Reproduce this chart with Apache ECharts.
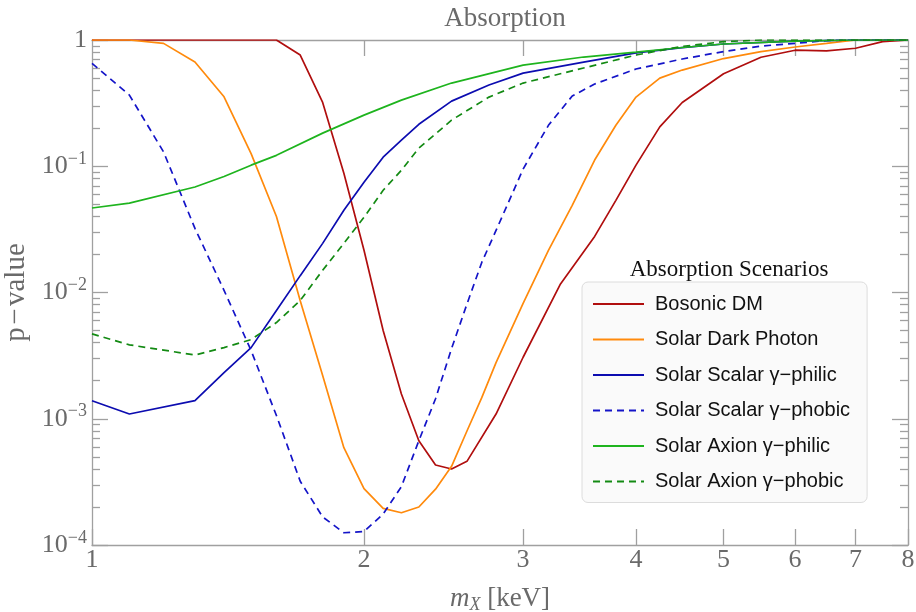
<!DOCTYPE html>
<html><head><meta charset="utf-8">
<script src="https://cdn.jsdelivr.net/npm/echarts@6/dist/echarts.min.js"></script>
<style>html,body{margin:0;padding:0;background:#fff}#c{width:916px;height:612px}</style>
</head><body><div id="c"></div>
<script>
// ---- data ----
var xTickValues = [1, 2, 3, 4, 5, 6, 7, 8];
var xTopTickValues = [2, 3, 4, 5, 6, 7];
var yMajorValues = [1e-4, 1e-3, 1e-2, 1e-1, 1];
var yMinorValues = [2e-4,3e-4,4e-4,5e-4,6e-4,7e-4,8e-4,9e-4,2e-3,3e-3,4e-3,5e-3,6e-3,7e-3,8e-3,9e-3,2e-2,3e-2,4e-2,5e-2,6e-2,7e-2,8e-2,9e-2,0.2,0.3,0.4,0.5,0.6,0.7,0.8,0.9];

var bosonX = [1, 1.6, 1.7, 1.8, 1.9, 2.0, 2.1, 2.2, 2.3, 2.4, 2.5, 2.6, 2.8, 3.0, 3.3, 3.6, 3.8, 4.0, 4.25, 4.5, 5.0, 5.5, 6.0, 6.5, 7.0, 7.5, 8.0];
var bosonY = [1, 1, 0.76, 0.32, 0.088, 0.0216, 0.0050, 0.00157, 6.7e-4, 4.3e-4, 4.0e-4, 4.6e-4, 0.00109, 0.00307, 0.0117, 0.0278, 0.0537, 0.102, 0.205, 0.32, 0.54, 0.73, 0.83, 0.82, 0.86, 0.97, 1];

var photonX = [1, 1.1, 1.2, 1.3, 1.4, 1.5, 1.6, 1.7, 1.8, 1.9, 2.0, 2.1, 2.2, 2.3, 2.4, 2.5, 2.6, 2.7, 2.8, 3.0, 3.2, 3.4, 3.6, 3.8, 4.0, 4.25, 4.5, 5.0, 5.5, 6.0, 6.5, 7.0, 8.0];
var photonY = [1, 1, 0.94, 0.67, 0.355, 0.126, 0.040, 0.0086, 0.0022, 5.9e-4, 2.8e-4, 1.95e-4, 1.8e-4, 2.0e-4, 2.77e-4, 4.2e-4, 8.0e-4, 0.00147, 0.00278, 0.0082, 0.0216, 0.049, 0.112, 0.211, 0.353, 0.499, 0.578, 0.713, 0.81, 0.88, 0.94, 1, 1];

var scalarPhilicX = [1, 1.1, 1.3, 1.4, 1.5, 1.6, 1.7, 1.8, 1.9, 2.0, 2.1, 2.2, 2.3, 2.5, 2.75, 3.0, 3.5, 4.0, 4.5, 5.0, 6.0, 7.0, 8.0];
var scalarPhilicY = [0.00139, 0.00109, 0.00139, 0.00232, 0.00366, 0.0072, 0.0136, 0.0245, 0.0448, 0.0746, 0.118, 0.161, 0.215, 0.328, 0.44, 0.547, 0.669, 0.79, 0.87, 0.93, 0.98, 1, 1];

var scalarPhobicX = [1, 1.1, 1.2, 1.3, 1.4, 1.5, 1.6, 1.7, 1.8, 1.9, 2.0, 2.1, 2.2, 2.3, 2.4, 2.5, 2.6, 2.7, 2.8, 3.0, 3.2, 3.4, 3.6, 4.0, 4.5, 5.0, 5.5, 6.0, 6.5, 7.0, 8.0];
var scalarPhobicY = [0.653, 0.366, 0.13, 0.0322, 0.0104, 0.00347, 0.00106, 3.2e-4, 1.67e-4, 1.25e-4, 1.28e-4, 1.76e-4, 2.9e-4, 6.7e-4, 0.00144, 0.0036, 0.0081, 0.0173, 0.031, 0.095, 0.211, 0.36, 0.448, 0.589, 0.707, 0.81, 0.896, 0.94, 0.99, 1, 1];

var axionPhilicX = [1, 1.1, 1.3, 1.4, 1.5, 1.6, 1.8, 2.0, 2.2, 2.5, 3.0, 3.5, 4.0, 4.5, 5.0, 6.0, 7.0, 8.0];
var axionPhilicY = [0.0467, 0.0511, 0.0685, 0.083, 0.102, 0.122, 0.183, 0.254, 0.334, 0.456, 0.633, 0.733, 0.803, 0.872, 0.93, 0.98, 1, 1];

var axionPhobicX = [1, 1.1, 1.3, 1.4, 1.5, 1.6, 1.7, 1.8, 1.9, 2.0, 2.1, 2.2, 2.3, 2.5, 2.75, 3.0, 3.5, 4.0, 4.5, 5.0, 5.5, 8.0];
var axionPhobicY = [0.0047, 0.00385, 0.0032, 0.00366, 0.00424, 0.00578, 0.00865, 0.015, 0.0245, 0.0394, 0.0645, 0.093, 0.139, 0.232, 0.353, 0.456, 0.60, 0.76, 0.89, 0.97, 1, 1];

var seriesNames = ['Bosonic DM', 'Solar Dark Photon', 'Solar Scalar \u03b3\u2212philic', 'Solar Scalar \u03b3\u2212phobic', 'Solar Axion \u03b3\u2212philic', 'Solar Axion \u03b3\u2212phobic'];

// ---- chart ----
function pairs(xs, ys) { return xs.map(function (x, i) { return [x, ys[i]]; }); }
var SERIF = '"Liberation Serif", "DejaVu Serif", serif';
var SANS = '"Liberation Sans", Arial, sans-serif';
var axisGray = '#a0a0a0';
var textGray = '#6a6a6a';

var yLabelRich = {
  b: { fontFamily: SERIF, fontSize: 26, color: textGray },
  s: { fontFamily: SERIF, fontSize: 18, color: textGray, padding: [0, 0, 14, 0] }
};
function yFmt(v) {
  var e = Math.round(Math.log(v) / Math.LN10);
  if (e === 0) return '{b|1}';
  return '{b|10}{s|\u2212' + (-e) + '}';
}

function lineSeries(name, xs, ys, color, dashed) {
  return {
    name: name, type: 'line', xAxisIndex: 0, yAxisIndex: 0,
    data: pairs(xs, ys), showSymbol: false, symbol: 'none', smooth: false,
    clip: true,
    lineStyle: { color: color, width: 1.7, type: dashed ? [7, 5] : 'solid' },
    itemStyle: { color: color }
  };
}

var baseLog = { type: 'log', logBase: 10, gridIndex: 0 };
var option = {
  backgroundColor: '#ffffff',
  animation: false,
  title: [
    { text: 'Absorption', left: 500, top: 0, textAlign: 'center',
      textStyle: { fontFamily: SERIF, fontSize: 27, fontWeight: 'normal', color: textGray } },
    { text: 'Absorption Scenarios', left: 724, top: 253, textAlign: 'center',
      textStyle: { fontFamily: SERIF, fontSize: 23, fontWeight: 'normal', color: '#111' } }
  ],
  grid: { left: 92, right: 8, top: 40, bottom: 67, containLabel: false, outerBoundsMode: 'none' },
  legend: {
    show: true,
    orient: 'vertical', left: 582, top: 282,
    padding: [12, 17, 11, 10],
    backgroundColor: '#fafafa', borderColor: '#dcdcdc', borderWidth: 1, borderRadius: 6,
    itemWidth: 51, itemHeight: 14, itemGap: 15.5,
    itemStyle: { opacity: 0 },
    textStyle: { fontFamily: SANS, fontSize: 20, color: '#111', padding: [0, 0, 0, 6] },
    data: seriesNames
  },
  xAxis: [
    Object.assign({}, baseLog, {
      min: 1, max: 8, position: 'bottom',
      name: '{i|m}{sub|X}{n| [keV]}', nameLocation: 'middle', nameGap: 39,
      nameTextStyle: { rich: {
        i: { fontFamily: SERIF, fontStyle: 'italic', fontSize: 27, color: textGray },
        sub: { fontFamily: SERIF, fontStyle: 'italic', fontSize: 18, color: textGray, padding: [12, 0, 0, 0] },
        n: { fontFamily: SERIF, fontSize: 27, color: textGray }
      } },
      axisLine: { show: true, lineStyle: { color: axisGray, width: 1.3 } },
      axisTick: { show: true, inside: true, length: 16, customValues: xTickValues, lineStyle: { color: axisGray, width: 1.3 } },
      axisLabel: { show: true, customValues: xTickValues, margin: 2, fontFamily: SERIF, fontSize: 26, color: textGray,
        formatter: function (v) { return String(Math.round(v)); } },
      splitLine: { show: false }, minorTick: { show: false }
    }),
    Object.assign({}, baseLog, {
      min: 1, max: 8, position: 'top',
      axisLine: { show: true, onZero: false, lineStyle: { color: axisGray, width: 1.3 } },
      axisTick: { show: true, inside: true, length: 16, customValues: xTopTickValues, lineStyle: { color: axisGray, width: 1.3 } },
      axisLabel: { show: false }, splitLine: { show: false }
    })
  ],
  yAxis: [
    Object.assign({}, baseLog, {
      min: 1e-4, max: 1, position: 'left',
      name: 'p\u200a\u2212\u200avalue', nameLocation: 'middle', nameGap: 60, nameRotate: 90,
      nameTextStyle: { fontFamily: SERIF, fontSize: 29, color: textGray },
      axisLine: { show: true, lineStyle: { color: axisGray, width: 1.3 } },
      axisTick: { show: true, inside: true, length: 16, customValues: yMajorValues, lineStyle: { color: axisGray, width: 1.3 } },
      axisLabel: { show: true, customValues: yMajorValues, margin: 5, formatter: yFmt, rich: yLabelRich },
      splitLine: { show: false }, minorTick: { show: false }
    }),
    Object.assign({}, baseLog, {
      min: 1e-4, max: 1, position: 'left',
      axisLine: { show: false },
      axisTick: { show: true, inside: true, length: 8, customValues: yMinorValues, lineStyle: { color: axisGray, width: 1.3 } },
      axisLabel: { show: false }, splitLine: { show: false }
    }),
    Object.assign({}, baseLog, {
      min: 1e-4, max: 1, position: 'right',
      axisLine: { show: true, onZero: false, lineStyle: { color: axisGray, width: 1.3 } },
      axisTick: { show: true, inside: true, length: 16, customValues: yMajorValues, lineStyle: { color: axisGray, width: 1.3 } },
      axisLabel: { show: false }, splitLine: { show: false }
    }),
    Object.assign({}, baseLog, {
      min: 1e-4, max: 1, position: 'right',
      axisLine: { show: false },
      axisTick: { show: true, inside: true, length: 8, customValues: yMinorValues, lineStyle: { color: axisGray, width: 1.3 } },
      axisLabel: { show: false }, splitLine: { show: false }
    })
  ],
  series: [
    lineSeries(seriesNames[0], bosonX, bosonY, '#b00e0e', false),
    lineSeries(seriesNames[1], photonX, photonY, '#ff8a0c', false),
    lineSeries(seriesNames[2], scalarPhilicX, scalarPhilicY, '#0c0cb0', false),
    lineSeries(seriesNames[3], scalarPhobicX, scalarPhobicY, '#1414c8', true),
    lineSeries(seriesNames[4], axionPhilicX, axionPhilicY, '#1eb41e', false),
    lineSeries(seriesNames[5], axionPhobicX, axionPhobicY, '#138a13', true)
  ]
};
var chart = echarts.init(document.getElementById('c'), null, { renderer: 'canvas' });
chart.setOption(option);
</script></body></html>
